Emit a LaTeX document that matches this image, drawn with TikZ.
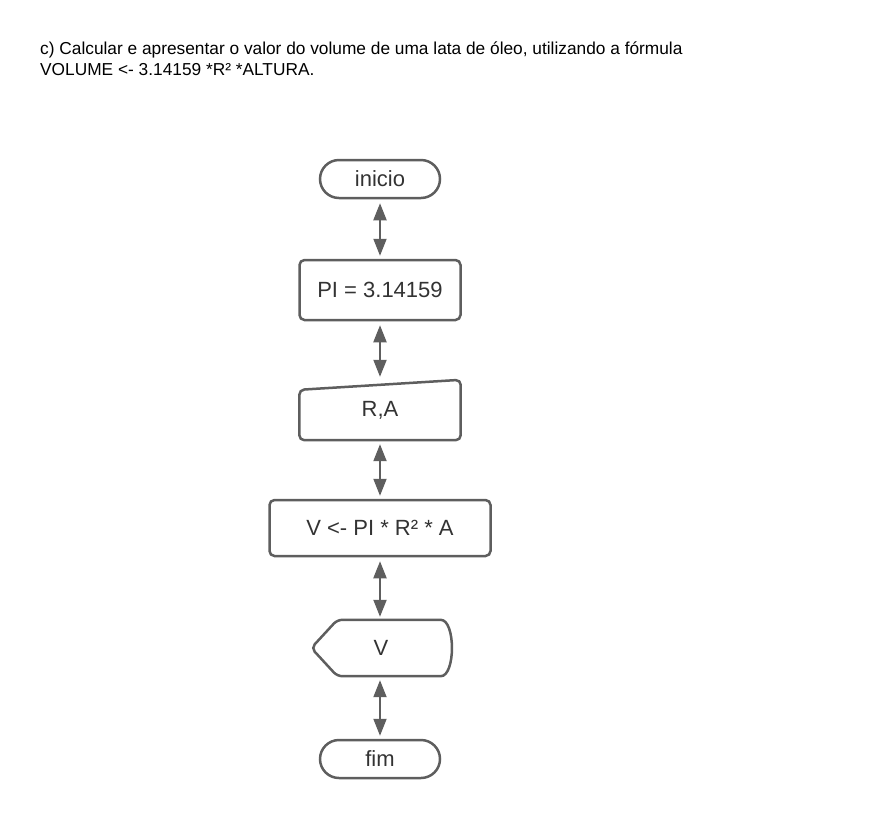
\documentclass[tikz,border=0pt]{standalone}
\usepackage{fontspec}
\setmainfont{Liberation Sans}
\usetikzlibrary{arrows.meta}
\definecolor{flowline}{RGB}{94,94,94}
\definecolor{flowtext}{RGB}{51,51,51}

\begin{document}
\begin{tikzpicture}[x=1pt, y=-1pt,
  header/.style={font=\fontsize{17.3}{20}\selectfont, inner sep=0pt, text=black},
  terminal/.style={draw=flowline, line width=2.5pt, rounded corners=19pt, minimum width=120pt, minimum height=38pt, font=\fontsize{22}{26}\selectfont, text=flowtext},
  process/.style={draw=flowline, line width=2.5pt, rounded corners=5pt, minimum height=60pt, font=\fontsize{22}{26}\selectfont, text=flowtext},
  shapebox/.style={minimum height=56pt, font=\fontsize{22}{26}\selectfont, text=flowtext},
  outline/.style={draw=flowline, line width=2.5pt, rounded corners=5pt},
  flowarrow/.style={{Triangle[length=17pt,width=13pt]}-{Triangle[length=17pt,width=13pt]}, draw=flowline, line width=2pt, shorten <=4pt, shorten >=3pt}]
\useasboundingbox (0,0) rectangle (880,820);

% Enunciado
\node[header, anchor=base west] (title1) at (40,54) {c) Calcular e apresentar o valor do volume de uma lata de óleo, utilizando a fórmula};
\node[header, anchor=base west] (title2) at (40,75) {VOLUME <- 3.14159 *R² *ALTURA.};

% Inicio
\node[terminal] (start) at (380,179) {inicio};

% Constante
\node[process, minimum width=161pt] (pi) at (380,290) {PI = 3.14159};

% Entrada manual
\node[shapebox, minimum width=161pt, minimum height=60pt] (read) at (380,410) {R,A};
\draw[outline] (read.south west) -- ([yshift=-10pt]read.north west) -- (read.north east) -- (read.south east) -- cycle;

% Calculo
\node[process, minimum width=221pt, minimum height=56pt] (calc) at (380,528) {V <- PI * R² * A};

% Saida (display)
\node[shapebox, minimum width=139pt] (show) at (381,648) {V};
\draw[outline] ([xshift=26pt]show.north west) -- ([xshift=-15pt]show.north east)
  .. controls ([xshift=5pt]show.north east) and ([xshift=5pt]show.south east) .. ([xshift=-15pt]show.south east)
  -- ([xshift=26pt]show.south west) -- (show.west) -- cycle;

% Fim
\node[terminal] (stop) at (380,759) {fim};

% Setas
\draw[flowarrow] (start.south) -- (pi.north);
\draw[flowarrow] (pi.south) -- (read.north);
\draw[flowarrow] (read.south) -- (calc.north);
\draw[flowarrow] (calc.south) -- ([xshift=-1pt]show.north);
\draw[flowarrow] ([xshift=-1pt]show.south) -- (stop.north);
\end{tikzpicture}
\end{document}
